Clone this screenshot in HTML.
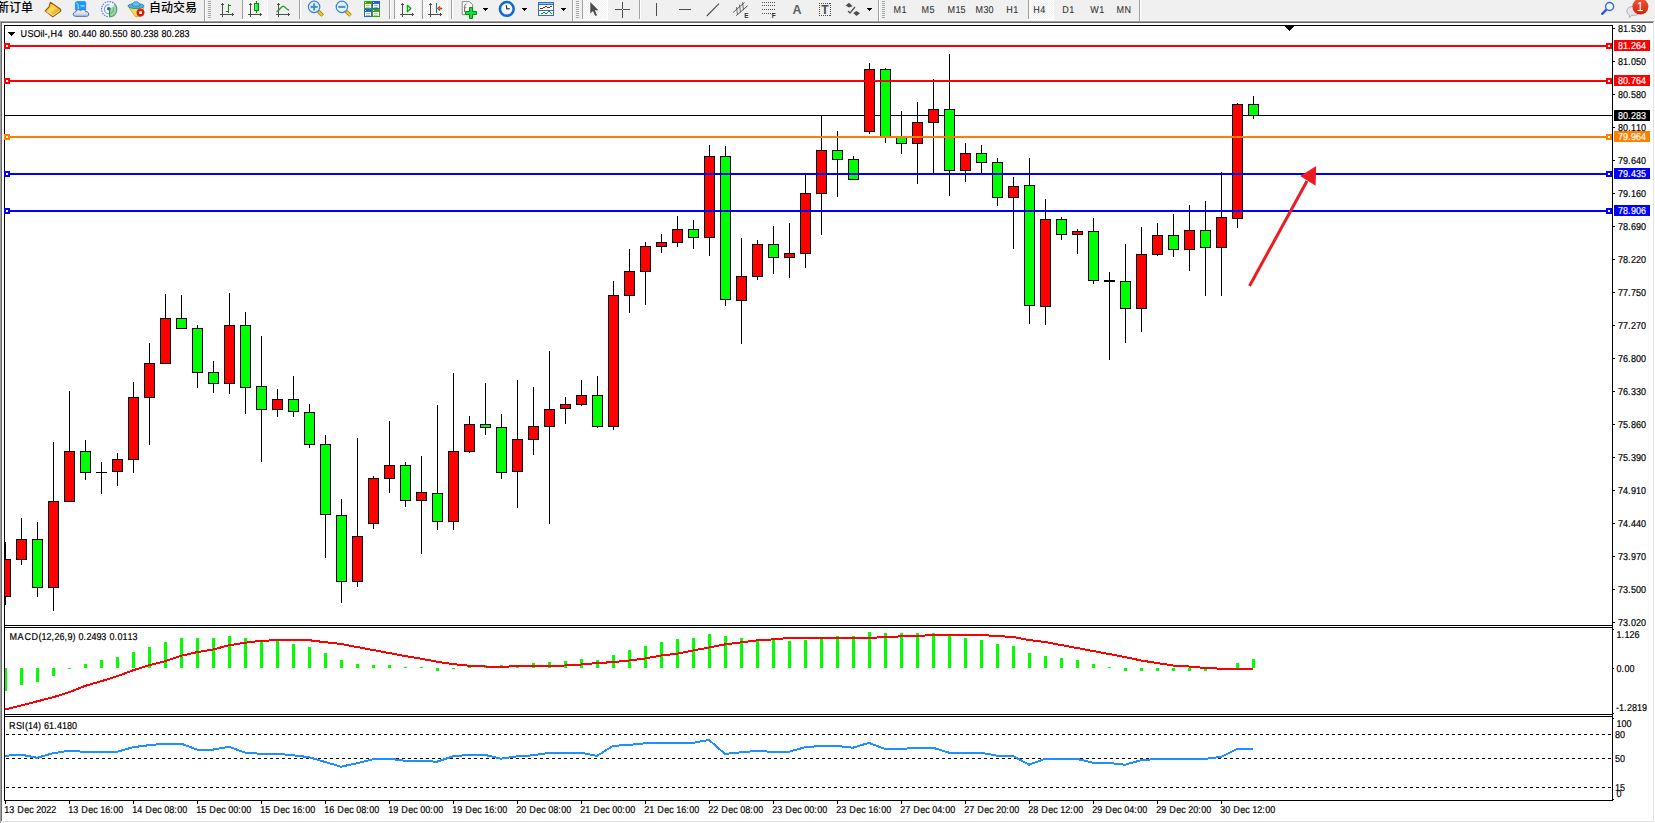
<!DOCTYPE html>
<html lang="zh"><head><meta charset="utf-8"><title>USOil-,H4</title>
<style>html,body{margin:0;padding:0;background:#fff}body{width:1655px;height:823px;overflow:hidden}svg{display:block;position:absolute;left:0;top:0}text{font-family:"Liberation Sans","Noto Sans CJK SC",sans-serif;white-space:pre}.cj{font-family:"Liberation Sans","Noto Sans CJK SC",sans-serif}.ce{shape-rendering:crispEdges}</style></head><body>
<svg width="1655" height="823" viewBox="0 0 1655 823">
<g class="ce">
<rect x="0" y="0" width="1655" height="823" fill="#ffffff"/>
<rect x="0" y="0" width="1655" height="21" fill="#f0f0f0"/>
<rect x="0" y="21" width="1654" height="1" fill="#a0a0a0"/>
<rect x="0" y="21" width="1" height="802" fill="#a0a0a0"/>
<rect x="1" y="22" width="1652" height="1" fill="#696969"/>
<rect x="1" y="22" width="1" height="800" fill="#696969"/>
<rect x="1653" y="22" width="1" height="800" fill="#e3e3e3"/>
<rect x="1" y="821" width="1653" height="1" fill="#e3e3e3"/>
</g>
<defs><linearGradient id="gGold" x1="0" y1="0" x2="1" y2="1"><stop offset="0" stop-color="#e0a510"/><stop offset="0.45" stop-color="#ffdf50"/><stop offset="1" stop-color="#b87408"/></linearGradient><linearGradient id="gCloud" x1="0" y1="0" x2="0" y2="1"><stop offset="0" stop-color="#ffffff"/><stop offset="1" stop-color="#b9c4de"/></linearGradient><linearGradient id="gRed" x1="0" y1="0" x2="0" y2="1"><stop offset="0" stop-color="#ea5a3c"/><stop offset="1" stop-color="#d81e05"/></linearGradient><linearGradient id="gGreen" x1="0" y1="0" x2="1" y2="0"><stop offset="0" stop-color="#7df58a"/><stop offset="1" stop-color="#17d92b"/></linearGradient><radialGradient id="gClock" cx="0.5" cy="0.4" r="0.6"><stop offset="0" stop-color="#ffffff"/><stop offset="1" stop-color="#e4ecf4"/></radialGradient><pattern id="chk" width="2" height="2" patternUnits="userSpaceOnUse"><rect width="2" height="2" fill="#ffffff"/><rect width="1" height="1" fill="#f0f0f0"/><rect x="1" y="1" width="1" height="1" fill="#f0f0f0"/></pattern></defs>
<g class="ce">
<rect x="0" y="20" width="1654" height="1" fill="#f8f8f8"/>
<rect x="204" y="0" width="1" height="21" fill="#a0a0a0"/>
<rect x="205" y="0" width="1" height="21" fill="#ffffff"/>
<rect x="572" y="0" width="1" height="21" fill="#a0a0a0"/>
<rect x="573" y="0" width="1" height="21" fill="#ffffff"/>
<rect x="878" y="0" width="1" height="21" fill="#a0a0a0"/>
<rect x="879" y="0" width="1" height="21" fill="#ffffff"/>
<rect x="1139" y="0" width="1" height="21" fill="#a0a0a0"/>
<rect x="1140" y="0" width="1" height="21" fill="#ffffff"/>
<rect x="208" y="1" width="3" height="1" fill="#a6a6a6"/>
<rect x="208" y="3" width="3" height="1" fill="#a6a6a6"/>
<rect x="208" y="5" width="3" height="1" fill="#a6a6a6"/>
<rect x="208" y="7" width="3" height="1" fill="#a6a6a6"/>
<rect x="208" y="9" width="3" height="1" fill="#a6a6a6"/>
<rect x="208" y="11" width="3" height="1" fill="#a6a6a6"/>
<rect x="208" y="13" width="3" height="1" fill="#a6a6a6"/>
<rect x="208" y="15" width="3" height="1" fill="#a6a6a6"/>
<rect x="208" y="17" width="3" height="1" fill="#a6a6a6"/>
<rect x="576" y="1" width="3" height="1" fill="#a6a6a6"/>
<rect x="576" y="3" width="3" height="1" fill="#a6a6a6"/>
<rect x="576" y="5" width="3" height="1" fill="#a6a6a6"/>
<rect x="576" y="7" width="3" height="1" fill="#a6a6a6"/>
<rect x="576" y="9" width="3" height="1" fill="#a6a6a6"/>
<rect x="576" y="11" width="3" height="1" fill="#a6a6a6"/>
<rect x="576" y="13" width="3" height="1" fill="#a6a6a6"/>
<rect x="576" y="15" width="3" height="1" fill="#a6a6a6"/>
<rect x="576" y="17" width="3" height="1" fill="#a6a6a6"/>
<rect x="882" y="1" width="3" height="1" fill="#a6a6a6"/>
<rect x="882" y="3" width="3" height="1" fill="#a6a6a6"/>
<rect x="882" y="5" width="3" height="1" fill="#a6a6a6"/>
<rect x="882" y="7" width="3" height="1" fill="#a6a6a6"/>
<rect x="882" y="9" width="3" height="1" fill="#a6a6a6"/>
<rect x="882" y="11" width="3" height="1" fill="#a6a6a6"/>
<rect x="882" y="13" width="3" height="1" fill="#a6a6a6"/>
<rect x="882" y="15" width="3" height="1" fill="#a6a6a6"/>
<rect x="882" y="17" width="3" height="1" fill="#a6a6a6"/>
<rect x="299" y="0" width="1" height="19" fill="#a0a0a0"/>
<rect x="300" y="0" width="1" height="19" fill="#ffffff"/>
<rect x="389" y="0" width="1" height="19" fill="#a0a0a0"/>
<rect x="390" y="0" width="1" height="19" fill="#ffffff"/>
<rect x="451" y="0" width="1" height="19" fill="#a0a0a0"/>
<rect x="452" y="0" width="1" height="19" fill="#ffffff"/>
<rect x="639" y="0" width="1" height="19" fill="#a0a0a0"/>
<rect x="640" y="0" width="1" height="19" fill="#ffffff"/>
<rect x="243" y="0" width="24" height="19" fill="url(#chk)"/>
<rect x="242" y="0" width="1" height="19" fill="#a0a0a0"/>
<rect x="267" y="0" width="1" height="20" fill="#ffffff"/>
<rect x="242" y="19" width="25" height="1" fill="#ffffff"/>
<rect x="395" y="0" width="24" height="19" fill="url(#chk)"/>
<rect x="394" y="0" width="1" height="19" fill="#a0a0a0"/>
<rect x="419" y="0" width="1" height="20" fill="#ffffff"/>
<rect x="394" y="19" width="25" height="1" fill="#ffffff"/>
<rect x="423" y="0" width="24" height="19" fill="url(#chk)"/>
<rect x="422" y="0" width="1" height="19" fill="#a0a0a0"/>
<rect x="447" y="0" width="1" height="20" fill="#ffffff"/>
<rect x="422" y="19" width="25" height="1" fill="#ffffff"/>
<rect x="583" y="0" width="24" height="19" fill="url(#chk)"/>
<rect x="582" y="0" width="1" height="19" fill="#a0a0a0"/>
<rect x="607" y="0" width="1" height="20" fill="#ffffff"/>
<rect x="582" y="19" width="25" height="1" fill="#ffffff"/>
<rect x="1029" y="0" width="24" height="19" fill="url(#chk)"/>
<rect x="1028" y="0" width="1" height="19" fill="#a0a0a0"/>
<rect x="1053" y="0" width="1" height="20" fill="#ffffff"/>
<rect x="1028" y="19" width="25" height="1" fill="#ffffff"/>
<rect x="222" y="3" width="1" height="14" fill="#4d4d4d"/>
<rect x="221" y="4" width="3" height="1" fill="#4d4d4d"/>
<rect x="220" y="14" width="14" height="1" fill="#4d4d4d"/>
<rect x="232" y="13" width="1" height="3" fill="#4d4d4d"/>
<rect x="250" y="3" width="1" height="14" fill="#4d4d4d"/>
<rect x="249" y="4" width="3" height="1" fill="#4d4d4d"/>
<rect x="248" y="14" width="14" height="1" fill="#4d4d4d"/>
<rect x="260" y="13" width="1" height="3" fill="#4d4d4d"/>
<rect x="278" y="3" width="1" height="14" fill="#4d4d4d"/>
<rect x="277" y="4" width="3" height="1" fill="#4d4d4d"/>
<rect x="276" y="14" width="14" height="1" fill="#4d4d4d"/>
<rect x="288" y="13" width="1" height="3" fill="#4d4d4d"/>
<rect x="402" y="3" width="1" height="14" fill="#4d4d4d"/>
<rect x="401" y="4" width="3" height="1" fill="#4d4d4d"/>
<rect x="400" y="14" width="14" height="1" fill="#4d4d4d"/>
<rect x="412" y="13" width="1" height="3" fill="#4d4d4d"/>
<rect x="430" y="3" width="1" height="14" fill="#4d4d4d"/>
<rect x="429" y="4" width="3" height="1" fill="#4d4d4d"/>
<rect x="428" y="14" width="14" height="1" fill="#4d4d4d"/>
<rect x="440" y="13" width="1" height="3" fill="#4d4d4d"/>
<rect x="228" y="4" width="1" height="9" fill="#0a8a0a"/>
<rect x="229" y="5" width="2" height="1" fill="#0a8a0a"/>
<rect x="226" y="11" width="2" height="1" fill="#0a8a0a"/>
<rect x="256" y="1" width="1" height="12" fill="#009a00"/>
<rect x="254" y="3" width="5" height="8" fill="#009a00"/>
<rect x="255" y="4" width="3" height="6" fill="url(#gGreen)"/>
<rect x="483" y="8" width="5" height="1" fill="#000"/>
<rect x="484" y="9" width="3" height="1" fill="#000"/>
<rect x="485" y="10" width="1" height="1" fill="#000"/>
<rect x="522" y="8" width="5" height="1" fill="#000"/>
<rect x="523" y="9" width="3" height="1" fill="#000"/>
<rect x="524" y="10" width="1" height="1" fill="#000"/>
<rect x="561" y="8" width="5" height="1" fill="#000"/>
<rect x="562" y="9" width="3" height="1" fill="#000"/>
<rect x="563" y="10" width="1" height="1" fill="#000"/>
<rect x="867" y="8" width="5" height="1" fill="#000"/>
<rect x="868" y="9" width="3" height="1" fill="#000"/>
<rect x="869" y="10" width="1" height="1" fill="#000"/>
<rect x="622" y="2" width="1" height="16" fill="#4d4d4d"/>
<rect x="615" y="9" width="15" height="1" fill="#4d4d4d"/>
<rect x="622" y="9" width="1" height="1" fill="#f0f0f0"/>
<rect x="656" y="3" width="1" height="13" fill="#4d4d4d"/>
<rect x="679" y="9" width="12" height="1" fill="#4d4d4d"/>
<rect x="762" y="2" width="1" height="1" fill="#4d4d4d"/>
<rect x="764" y="2" width="1" height="1" fill="#4d4d4d"/>
<rect x="766" y="2" width="1" height="1" fill="#4d4d4d"/>
<rect x="768" y="2" width="1" height="1" fill="#4d4d4d"/>
<rect x="770" y="2" width="1" height="1" fill="#4d4d4d"/>
<rect x="772" y="2" width="1" height="1" fill="#4d4d4d"/>
<rect x="774" y="2" width="1" height="1" fill="#4d4d4d"/>
<rect x="762" y="5" width="1" height="1" fill="#4d4d4d"/>
<rect x="764" y="5" width="1" height="1" fill="#4d4d4d"/>
<rect x="766" y="5" width="1" height="1" fill="#4d4d4d"/>
<rect x="768" y="5" width="1" height="1" fill="#4d4d4d"/>
<rect x="770" y="5" width="1" height="1" fill="#4d4d4d"/>
<rect x="772" y="5" width="1" height="1" fill="#4d4d4d"/>
<rect x="774" y="5" width="1" height="1" fill="#4d4d4d"/>
<rect x="762" y="9" width="1" height="1" fill="#4d4d4d"/>
<rect x="764" y="9" width="1" height="1" fill="#4d4d4d"/>
<rect x="766" y="9" width="1" height="1" fill="#4d4d4d"/>
<rect x="768" y="9" width="1" height="1" fill="#4d4d4d"/>
<rect x="770" y="9" width="1" height="1" fill="#4d4d4d"/>
<rect x="772" y="9" width="1" height="1" fill="#4d4d4d"/>
<rect x="774" y="9" width="1" height="1" fill="#4d4d4d"/>
<rect x="762" y="13" width="1" height="1" fill="#4d4d4d"/>
<rect x="764" y="13" width="1" height="1" fill="#4d4d4d"/>
<rect x="766" y="13" width="1" height="1" fill="#4d4d4d"/>
<rect x="768" y="13" width="1" height="1" fill="#4d4d4d"/>
<rect x="770" y="13" width="1" height="1" fill="#4d4d4d"/>
<rect x="772" y="13" width="1" height="1" fill="#4d4d4d"/>
<rect x="774" y="13" width="1" height="1" fill="#4d4d4d"/>
<rect x="819" y="3" width="1" height="1" fill="#4d4d4d"/>
<rect x="819" y="15" width="1" height="1" fill="#4d4d4d"/>
<rect x="821" y="3" width="1" height="1" fill="#4d4d4d"/>
<rect x="821" y="15" width="1" height="1" fill="#4d4d4d"/>
<rect x="823" y="3" width="1" height="1" fill="#4d4d4d"/>
<rect x="823" y="15" width="1" height="1" fill="#4d4d4d"/>
<rect x="825" y="3" width="1" height="1" fill="#4d4d4d"/>
<rect x="825" y="15" width="1" height="1" fill="#4d4d4d"/>
<rect x="827" y="3" width="1" height="1" fill="#4d4d4d"/>
<rect x="827" y="15" width="1" height="1" fill="#4d4d4d"/>
<rect x="829" y="3" width="1" height="1" fill="#4d4d4d"/>
<rect x="829" y="15" width="1" height="1" fill="#4d4d4d"/>
<rect x="819" y="3" width="1" height="1" fill="#4d4d4d"/>
<rect x="830" y="3" width="1" height="1" fill="#4d4d4d"/>
<rect x="819" y="5" width="1" height="1" fill="#4d4d4d"/>
<rect x="830" y="5" width="1" height="1" fill="#4d4d4d"/>
<rect x="819" y="7" width="1" height="1" fill="#4d4d4d"/>
<rect x="830" y="7" width="1" height="1" fill="#4d4d4d"/>
<rect x="819" y="9" width="1" height="1" fill="#4d4d4d"/>
<rect x="830" y="9" width="1" height="1" fill="#4d4d4d"/>
<rect x="819" y="11" width="1" height="1" fill="#4d4d4d"/>
<rect x="830" y="11" width="1" height="1" fill="#4d4d4d"/>
<rect x="819" y="13" width="1" height="1" fill="#4d4d4d"/>
<rect x="830" y="13" width="1" height="1" fill="#4d4d4d"/>
<rect x="819" y="15" width="1" height="1" fill="#4d4d4d"/>
<rect x="830" y="15" width="1" height="1" fill="#4d4d4d"/>
<rect x="364" y="1" width="8" height="8" fill="#3ba312"/>
<rect x="365" y="4" width="6" height="4" fill="#fff"/>
<rect x="366" y="5" width="4" height="1" fill="#9fd77f"/>
<rect x="366" y="7" width="4" height="1" fill="#9fd77f"/>
<rect x="365" y="2" width="1" height="1" fill="#e8f0ff"/>
<rect x="372" y="1" width="8" height="8" fill="#2762d9"/>
<rect x="373" y="4" width="6" height="4" fill="#fff"/>
<rect x="374" y="5" width="4" height="1" fill="#8fb0f0"/>
<rect x="374" y="7" width="4" height="1" fill="#8fb0f0"/>
<rect x="373" y="2" width="1" height="1" fill="#e8f0ff"/>
<rect x="364" y="9" width="8" height="8" fill="#2762d9"/>
<rect x="365" y="12" width="6" height="4" fill="#fff"/>
<rect x="366" y="13" width="4" height="1" fill="#8fb0f0"/>
<rect x="366" y="15" width="4" height="1" fill="#8fb0f0"/>
<rect x="365" y="10" width="1" height="1" fill="#e8f0ff"/>
<rect x="372" y="9" width="8" height="8" fill="#3ba312"/>
<rect x="373" y="12" width="6" height="4" fill="#fff"/>
<rect x="374" y="13" width="4" height="1" fill="#9fd77f"/>
<rect x="374" y="15" width="4" height="1" fill="#9fd77f"/>
<rect x="373" y="10" width="1" height="1" fill="#e8f0ff"/>
<rect x="538" y="2" width="16" height="14" fill="#2a72c0"/>
<rect x="539" y="3" width="14" height="1" fill="#8fc0f0"/>
<rect x="539" y="5" width="14" height="5" fill="#fff"/>
<rect x="539" y="11" width="14" height="4" fill="#fff"/>
<rect x="540" y="8" width="3" height="1" fill="#a01808"/>
<rect x="543" y="7" width="2" height="1" fill="#a01808"/>
<rect x="545" y="6" width="2" height="1" fill="#a01808"/>
<rect x="547" y="7" width="3" height="1" fill="#a01808"/>
<rect x="550" y="6" width="2" height="1" fill="#a01808"/>
<rect x="541" y="13" width="2" height="1" fill="#10901a"/>
<rect x="543" y="12" width="2" height="1" fill="#10901a"/>
<rect x="545" y="13" width="2" height="1" fill="#10901a"/>
<rect x="547" y="12" width="1" height="1" fill="#10901a"/>
<rect x="548" y="11" width="2" height="1" fill="#10901a"/>
<rect x="550" y="12" width="1" height="1" fill="#10901a"/>
<rect x="551" y="13" width="1" height="1" fill="#10901a"/>
</g>
<g>
<polygon points="50.3,2.3 60.6,9.2 60.8,11 52.8,16.8 45.2,10.8 49,7" fill="url(#gGold)" stroke="#9a5a06" stroke-width="1.1" stroke-linejoin="round"/>
<path d="M46.5,11.5 L53,15.5 L59.8,10.6" fill="none" stroke="#f8e9a8" stroke-width="1"/>
<path d="M75.3,2.5 L77,1.5 H85 L85.8,2.5 V10 H75.3 Z" fill="#189bff" stroke="#0a84e8" stroke-width="0.6"/>
<path d="M76.2,2.8 L78.2,4.5 V10" fill="none" stroke="#e8f6ff" stroke-width="0.8"/>
<rect x="80.5" y="5.4" width="4" height="1" fill="#e8f6ff"/>
<path d="M75.5,16.3 C72.5,16.3 72.5,12 75.7,12 C76,9.6 79.5,9.2 80.7,10.8 C82.5,8.7 85.6,9.7 85.4,11.6 C89,11 90.2,16.3 86.5,16.3 Z" fill="url(#gCloud)" stroke="#4a66a8" stroke-width="1"/>
<circle cx="109" cy="9.2" r="7.6" fill="#f4f6fb"/>
<path d="M109.6,9.2 L109.6,16.8 A7.6,7.6 0 0 0 115.2,4.6 Z" fill="#9fd79f"/>
<path d="M109.6,16.8 A7.6,7.6 0 0 0 115.2,4.6" fill="none" stroke="#4f9a86" stroke-width="1.2"/>
<path d="M115.2,4.6 A7.6,7.6 0 1 0 108.5,16.8" fill="none" stroke="#5b7fe0" stroke-width="1.2" stroke-dasharray="1.6 0.9"/>
<circle cx="109" cy="9.2" r="4.6" fill="none" stroke="#6f8fe4" stroke-width="1.1" stroke-dasharray="14.5 14.4" stroke-dashoffset="-7" opacity="0.9"/>
<path d="M110.5,13.4 A4.6,4.6 0 0 0 113.3,7.5" fill="none" stroke="#6fae8f" stroke-width="1.1"/>
<circle cx="108.8" cy="8.7" r="1.8" fill="#2a55d0"/>
<rect x="109" y="9" width="1.2" height="7.8" fill="#16a516"/>
<path d="M129,7.6 L143.8,7.6 L140,16.6 L135.5,16.6 Z" fill="#f8dc50" stroke="#c89a10" stroke-width="0.8"/>
<ellipse cx="136" cy="6" rx="8" ry="2.5" fill="#58b0e8" stroke="#1c84b0" stroke-width="0.9"/>
<path d="M132.2,5.6 C132,0.4 139.8,0.4 140,5.6 C138,6.6 134,6.6 132.2,5.6 Z" fill="#6cbcf0" stroke="#1c84b0" stroke-width="0.8"/>
<circle cx="140.5" cy="12.6" r="3.7" fill="#e01e08" stroke="#b81400" stroke-width="0.6"/>
<rect x="139.2" y="11.3" width="2.7" height="2.7" fill="#fff"/>
<path d="M277,11.6 C279.5,10.5 281,6.2 283.2,6.2 C285.2,6.2 286,9.3 288.6,10" fill="none" stroke="#2e9e2e" stroke-width="1.4" stroke-linecap="round"/>
<line x1="318.3" y1="11.2" x2="322.70000000000005" y2="15.6" stroke="#b07800" stroke-width="3.6"/>
<line x1="318.70000000000005" y1="11.6" x2="322.3" y2="15.2" stroke="#f2d030" stroke-width="2"/>
<circle cx="314.1" cy="6.9" r="5.7" fill="#dff3ff" stroke="#3b80d2" stroke-width="1.2"/>
<rect x="310.6" y="5.9" width="7" height="2" fill="#4a8fb8"/>
<rect x="313.1" y="3.4" width="2" height="7" fill="#4a8fb8"/>
<line x1="346.09999999999997" y1="11.2" x2="350.5" y2="15.6" stroke="#b07800" stroke-width="3.6"/>
<line x1="346.5" y1="11.6" x2="350.09999999999997" y2="15.2" stroke="#f2d030" stroke-width="2"/>
<circle cx="341.9" cy="6.9" r="5.7" fill="#dff3ff" stroke="#3b80d2" stroke-width="1.2"/>
<rect x="338.4" y="5.9" width="7" height="2" fill="#4a8fb8"/>
<polygon points="407.3,5.2 411,8.5 407.3,11.8" fill="#7dff8e" stroke="#08a008" stroke-width="1.1" stroke-linejoin="round"/>
<rect x="436" y="3" width="1" height="10" fill="#1270a2"/>
<path d="M437.2,8.5 L439.6,6.4 L439.6,8 L441.8,8 L441.8,9 L439.6,9 L439.6,10.6 Z" fill="#ff7a10" stroke="#9a2000" stroke-width="0.7"/>
<path d="M462.2,1.7 H469.5 L472.6,4.6 V14.6 H462.2 Z" fill="#fff" stroke="#8a8a8a" stroke-width="1" stroke-linejoin="round"/>
<path d="M466.5,4 C464.5,4 464.8,6 464.6,8 V12" fill="none" stroke="#5a4a30" stroke-width="0.9"/>
<path d="M463.6,7.6 H466.6" fill="none" stroke="#8a7a60" stroke-width="0.7"/>
<path d="M469.5,7.5 H472.5 V11.5 H476.5 V14.5 H472.5 V18.5 H469.5 V14.5 H465.5 V11.5 H469.5 Z" fill="#14e03a" stroke="#0a8a14" stroke-width="1"/>
<circle cx="506.8" cy="8.9" r="6.9" fill="url(#gClock)" stroke="#0e6ad0" stroke-width="2.5"/>
<path d="M506.3,5.2 L506.8,9 L509.6,8.6" fill="none" stroke="#222" stroke-width="1.1"/>
<path d="M590.3,2 L590.3,13.4 L593,10.9 L595.2,16 L597,15.2 L594.8,10.2 L598.4,10.2 Z" fill="#4d4d4d"/>
<line x1="706.8" y1="16" x2="719" y2="3.6" stroke="#4d4d4d" stroke-width="1.1"/>
<line x1="733" y1="12.5" x2="744.5" y2="2.5" stroke="#4d4d4d" stroke-width="0.9"/>
<line x1="736.2" y1="15.7" x2="747.7" y2="5.7" stroke="#4d4d4d" stroke-width="0.9"/>
<line x1="736.5" y1="7.0" x2="737.5" y2="15.0" stroke="#4d4d4d" stroke-width="0.8"/>
<line x1="739.5" y1="4.6" x2="740.5" y2="12.6" stroke="#4d4d4d" stroke-width="0.8"/>
<line x1="742.5" y1="2.1999999999999993" x2="743.5" y2="10.2" stroke="#4d4d4d" stroke-width="0.8"/>
<polygon points="849,2.8 852.6,6.2 849,7.6 845.6,5.6" fill="#4d4d4d"/>
<polygon points="856.5,11 860,13.2 856.5,16 853.2,13" fill="#4d4d4d"/>
<path d="M848,11 L850,13 L855,7" fill="none" stroke="#4d4d4d" stroke-width="1.2"/>
<line x1="1602.2" y1="13.8" x2="1606.4" y2="9.6" stroke="#2a5fd0" stroke-width="2.4" stroke-linecap="round"/>
<circle cx="1609.6" cy="6.5" r="4" fill="#f4f7ff" stroke="#2f68dc" stroke-width="1.4"/>
<path d="M1627,12 C1626,8 1630,6.3 1634,6.5 C1639,6.8 1641,10 1639.5,13 C1638.5,15 1635,15.6 1631.8,15.3 L1629.4,17.6 L1629.4,14.9 C1628,14.3 1627.3,13.3 1627,12 Z" fill="#e4e4ec" stroke="#b0b0b0" stroke-width="1"/>
<circle cx="1640.4" cy="6.6" r="8" fill="url(#gRed)"/>
</g>
<g>
<text class="cj" x="-3" y="12" font-size="12" font-weight="500" fill="#000">新订单</text>
<text class="cj" x="149" y="12" font-size="12" font-weight="500" fill="#000">自动交易</text>
<text x="792.6" y="14" font-size="12.5" font-weight="bold" fill="#606060">A</text>
<text x="821.3" y="14" font-size="12" font-weight="bold" fill="#4d4d4d">T</text>
<text x="744.3" y="18" font-size="6.5" font-weight="bold" fill="#333">E</text>
<text x="771.8" y="18" font-size="6.5" font-weight="bold" fill="#333">F</text>
<text x="1636.8" y="11" font-size="12" fill="#fff">1</text>
</g>
<g class="ce">
<rect x="4" y="25" width="1609" height="1" fill="#000"/>
<rect x="4" y="625" width="1609" height="1" fill="#000"/>
<rect x="4" y="25" width="1" height="601" fill="#000"/>
<rect x="1612" y="25" width="1" height="601" fill="#000"/>
<rect x="4" y="627" width="1609" height="1" fill="#000"/>
<rect x="4" y="714" width="1609" height="1" fill="#000"/>
<rect x="4" y="627" width="1" height="88" fill="#000"/>
<rect x="1612" y="627" width="1" height="88" fill="#000"/>
<rect x="4" y="716" width="1609" height="1" fill="#000"/>
<rect x="4" y="800" width="1609" height="1" fill="#000"/>
<rect x="4" y="716" width="1" height="85" fill="#000"/>
<rect x="1612" y="716" width="1" height="85" fill="#000"/>
<rect x="1612" y="625" width="1" height="3" fill="#000"/>
<rect x="1612" y="714" width="1" height="3" fill="#000"/>
<rect x="4" y="625" width="1" height="3" fill="#000"/>
<rect x="4" y="714" width="1" height="3" fill="#000"/>
<rect x="5" y="115" width="1607" height="1" fill="#000"/>
<rect x="5" y="542" width="1" height="63" fill="#000"/>
<rect x="5" y="559" width="6" height="38" fill="#000"/>
<rect x="5" y="560" width="5" height="36" fill="#ff0000"/>
<rect x="21" y="518" width="1" height="47" fill="#000"/>
<rect x="16" y="539" width="11" height="21" fill="#000"/>
<rect x="17" y="540" width="9" height="19" fill="#ff0000"/>
<rect x="37" y="522" width="1" height="75" fill="#000"/>
<rect x="32" y="539" width="11" height="49" fill="#000"/>
<rect x="33" y="540" width="9" height="47" fill="#00ff00"/>
<rect x="53" y="442" width="1" height="169" fill="#000"/>
<rect x="48" y="501" width="11" height="87" fill="#000"/>
<rect x="49" y="502" width="9" height="85" fill="#ff0000"/>
<rect x="69" y="391" width="1" height="111" fill="#000"/>
<rect x="64" y="451" width="11" height="51" fill="#000"/>
<rect x="65" y="452" width="9" height="49" fill="#ff0000"/>
<rect x="85" y="440" width="1" height="40" fill="#000"/>
<rect x="80" y="451" width="11" height="22" fill="#000"/>
<rect x="81" y="452" width="9" height="20" fill="#00ff00"/>
<rect x="101" y="462" width="1" height="32" fill="#000"/>
<rect x="96" y="472" width="11" height="1" fill="#000"/>
<rect x="117" y="453" width="1" height="33" fill="#000"/>
<rect x="112" y="459" width="11" height="13" fill="#000"/>
<rect x="113" y="460" width="9" height="11" fill="#ff0000"/>
<rect x="133" y="382" width="1" height="91" fill="#000"/>
<rect x="128" y="397" width="11" height="63" fill="#000"/>
<rect x="129" y="398" width="9" height="61" fill="#ff0000"/>
<rect x="149" y="343" width="1" height="102" fill="#000"/>
<rect x="144" y="363" width="11" height="35" fill="#000"/>
<rect x="145" y="364" width="9" height="33" fill="#ff0000"/>
<rect x="165" y="294" width="1" height="70" fill="#000"/>
<rect x="160" y="318" width="11" height="46" fill="#000"/>
<rect x="161" y="319" width="9" height="44" fill="#ff0000"/>
<rect x="181" y="295" width="1" height="34" fill="#000"/>
<rect x="176" y="318" width="11" height="11" fill="#000"/>
<rect x="177" y="319" width="9" height="9" fill="#00ff00"/>
<rect x="197" y="325" width="1" height="63" fill="#000"/>
<rect x="192" y="328" width="11" height="45" fill="#000"/>
<rect x="193" y="329" width="9" height="43" fill="#00ff00"/>
<rect x="213" y="361" width="1" height="32" fill="#000"/>
<rect x="208" y="372" width="11" height="12" fill="#000"/>
<rect x="209" y="373" width="9" height="10" fill="#00ff00"/>
<rect x="229" y="293" width="1" height="101" fill="#000"/>
<rect x="224" y="325" width="11" height="59" fill="#000"/>
<rect x="225" y="326" width="9" height="57" fill="#ff0000"/>
<rect x="245" y="312" width="1" height="102" fill="#000"/>
<rect x="240" y="325" width="11" height="63" fill="#000"/>
<rect x="241" y="326" width="9" height="61" fill="#00ff00"/>
<rect x="261" y="336" width="1" height="126" fill="#000"/>
<rect x="256" y="386" width="11" height="24" fill="#000"/>
<rect x="257" y="387" width="9" height="22" fill="#00ff00"/>
<rect x="277" y="389" width="1" height="28" fill="#000"/>
<rect x="272" y="399" width="11" height="11" fill="#000"/>
<rect x="273" y="400" width="9" height="9" fill="#ff0000"/>
<rect x="293" y="376" width="1" height="41" fill="#000"/>
<rect x="288" y="399" width="11" height="13" fill="#000"/>
<rect x="289" y="400" width="9" height="11" fill="#00ff00"/>
<rect x="309" y="404" width="1" height="44" fill="#000"/>
<rect x="304" y="412" width="11" height="33" fill="#000"/>
<rect x="305" y="413" width="9" height="31" fill="#00ff00"/>
<rect x="325" y="435" width="1" height="123" fill="#000"/>
<rect x="320" y="444" width="11" height="71" fill="#000"/>
<rect x="321" y="445" width="9" height="69" fill="#00ff00"/>
<rect x="341" y="499" width="1" height="104" fill="#000"/>
<rect x="336" y="515" width="11" height="67" fill="#000"/>
<rect x="337" y="516" width="9" height="65" fill="#00ff00"/>
<rect x="357" y="438" width="1" height="149" fill="#000"/>
<rect x="352" y="536" width="11" height="46" fill="#000"/>
<rect x="353" y="537" width="9" height="44" fill="#ff0000"/>
<rect x="373" y="476" width="1" height="53" fill="#000"/>
<rect x="368" y="478" width="11" height="46" fill="#000"/>
<rect x="369" y="479" width="9" height="44" fill="#ff0000"/>
<rect x="389" y="421" width="1" height="72" fill="#000"/>
<rect x="384" y="465" width="11" height="14" fill="#000"/>
<rect x="385" y="466" width="9" height="12" fill="#ff0000"/>
<rect x="405" y="462" width="1" height="45" fill="#000"/>
<rect x="400" y="465" width="11" height="36" fill="#000"/>
<rect x="401" y="466" width="9" height="34" fill="#00ff00"/>
<rect x="421" y="456" width="1" height="98" fill="#000"/>
<rect x="416" y="492" width="11" height="9" fill="#000"/>
<rect x="417" y="493" width="9" height="7" fill="#ff0000"/>
<rect x="437" y="405" width="1" height="125" fill="#000"/>
<rect x="432" y="493" width="11" height="29" fill="#000"/>
<rect x="433" y="494" width="9" height="27" fill="#00ff00"/>
<rect x="453" y="373" width="1" height="157" fill="#000"/>
<rect x="448" y="451" width="11" height="71" fill="#000"/>
<rect x="449" y="452" width="9" height="69" fill="#ff0000"/>
<rect x="469" y="416" width="1" height="37" fill="#000"/>
<rect x="464" y="424" width="11" height="28" fill="#000"/>
<rect x="465" y="425" width="9" height="26" fill="#ff0000"/>
<rect x="485" y="383" width="1" height="52" fill="#000"/>
<rect x="480" y="424" width="11" height="4" fill="#000"/>
<rect x="481" y="425" width="9" height="2" fill="#00ff00"/>
<rect x="501" y="414" width="1" height="65" fill="#000"/>
<rect x="496" y="427" width="11" height="46" fill="#000"/>
<rect x="497" y="428" width="9" height="44" fill="#00ff00"/>
<rect x="517" y="380" width="1" height="128" fill="#000"/>
<rect x="512" y="439" width="11" height="33" fill="#000"/>
<rect x="513" y="440" width="9" height="31" fill="#ff0000"/>
<rect x="533" y="387" width="1" height="68" fill="#000"/>
<rect x="528" y="426" width="11" height="14" fill="#000"/>
<rect x="529" y="427" width="9" height="12" fill="#ff0000"/>
<rect x="549" y="351" width="1" height="173" fill="#000"/>
<rect x="544" y="409" width="11" height="18" fill="#000"/>
<rect x="545" y="410" width="9" height="16" fill="#ff0000"/>
<rect x="565" y="397" width="1" height="27" fill="#000"/>
<rect x="560" y="404" width="11" height="5" fill="#000"/>
<rect x="561" y="405" width="9" height="3" fill="#ff0000"/>
<rect x="581" y="380" width="1" height="26" fill="#000"/>
<rect x="576" y="395" width="11" height="10" fill="#000"/>
<rect x="577" y="396" width="9" height="8" fill="#ff0000"/>
<rect x="597" y="376" width="1" height="52" fill="#000"/>
<rect x="592" y="395" width="11" height="32" fill="#000"/>
<rect x="593" y="396" width="9" height="30" fill="#00ff00"/>
<rect x="613" y="281" width="1" height="149" fill="#000"/>
<rect x="608" y="295" width="11" height="132" fill="#000"/>
<rect x="609" y="296" width="9" height="130" fill="#ff0000"/>
<rect x="629" y="249" width="1" height="64" fill="#000"/>
<rect x="624" y="271" width="11" height="25" fill="#000"/>
<rect x="625" y="272" width="9" height="23" fill="#ff0000"/>
<rect x="645" y="242" width="1" height="63" fill="#000"/>
<rect x="640" y="246" width="11" height="26" fill="#000"/>
<rect x="641" y="247" width="9" height="24" fill="#ff0000"/>
<rect x="661" y="234" width="1" height="19" fill="#000"/>
<rect x="656" y="242" width="11" height="5" fill="#000"/>
<rect x="657" y="243" width="9" height="3" fill="#ff0000"/>
<rect x="677" y="216" width="1" height="31" fill="#000"/>
<rect x="672" y="229" width="11" height="14" fill="#000"/>
<rect x="673" y="230" width="9" height="12" fill="#ff0000"/>
<rect x="693" y="220" width="1" height="29" fill="#000"/>
<rect x="688" y="229" width="11" height="9" fill="#000"/>
<rect x="689" y="230" width="9" height="7" fill="#00ff00"/>
<rect x="709" y="145" width="1" height="111" fill="#000"/>
<rect x="704" y="156" width="11" height="82" fill="#000"/>
<rect x="705" y="157" width="9" height="80" fill="#ff0000"/>
<rect x="725" y="146" width="1" height="160" fill="#000"/>
<rect x="720" y="156" width="11" height="144" fill="#000"/>
<rect x="721" y="157" width="9" height="142" fill="#00ff00"/>
<rect x="741" y="238" width="1" height="106" fill="#000"/>
<rect x="736" y="276" width="11" height="25" fill="#000"/>
<rect x="737" y="277" width="9" height="23" fill="#ff0000"/>
<rect x="757" y="240" width="1" height="40" fill="#000"/>
<rect x="752" y="244" width="11" height="33" fill="#000"/>
<rect x="753" y="245" width="9" height="31" fill="#ff0000"/>
<rect x="773" y="226" width="1" height="48" fill="#000"/>
<rect x="768" y="244" width="11" height="14" fill="#000"/>
<rect x="769" y="245" width="9" height="12" fill="#00ff00"/>
<rect x="789" y="223" width="1" height="55" fill="#000"/>
<rect x="784" y="253" width="11" height="5" fill="#000"/>
<rect x="785" y="254" width="9" height="3" fill="#ff0000"/>
<rect x="805" y="175" width="1" height="93" fill="#000"/>
<rect x="800" y="193" width="11" height="61" fill="#000"/>
<rect x="801" y="194" width="9" height="59" fill="#ff0000"/>
<rect x="821" y="116" width="1" height="119" fill="#000"/>
<rect x="816" y="150" width="11" height="44" fill="#000"/>
<rect x="817" y="151" width="9" height="42" fill="#ff0000"/>
<rect x="837" y="131" width="1" height="66" fill="#000"/>
<rect x="832" y="150" width="11" height="10" fill="#000"/>
<rect x="833" y="151" width="9" height="8" fill="#00ff00"/>
<rect x="853" y="156" width="1" height="24" fill="#000"/>
<rect x="848" y="159" width="11" height="21" fill="#000"/>
<rect x="849" y="160" width="9" height="19" fill="#00ff00"/>
<rect x="869" y="63" width="1" height="71" fill="#000"/>
<rect x="864" y="69" width="11" height="63" fill="#000"/>
<rect x="865" y="70" width="9" height="61" fill="#ff0000"/>
<rect x="885" y="68" width="1" height="75" fill="#000"/>
<rect x="880" y="69" width="11" height="69" fill="#000"/>
<rect x="881" y="70" width="9" height="67" fill="#00ff00"/>
<rect x="901" y="111" width="1" height="43" fill="#000"/>
<rect x="896" y="137" width="11" height="7" fill="#000"/>
<rect x="897" y="138" width="9" height="5" fill="#00ff00"/>
<rect x="917" y="102" width="1" height="82" fill="#000"/>
<rect x="912" y="122" width="11" height="22" fill="#000"/>
<rect x="913" y="123" width="9" height="20" fill="#ff0000"/>
<rect x="933" y="79" width="1" height="95" fill="#000"/>
<rect x="928" y="109" width="11" height="14" fill="#000"/>
<rect x="929" y="110" width="9" height="12" fill="#ff0000"/>
<rect x="949" y="54" width="1" height="142" fill="#000"/>
<rect x="944" y="109" width="11" height="62" fill="#000"/>
<rect x="945" y="110" width="9" height="60" fill="#00ff00"/>
<rect x="965" y="143" width="1" height="39" fill="#000"/>
<rect x="960" y="153" width="11" height="18" fill="#000"/>
<rect x="961" y="154" width="9" height="16" fill="#ff0000"/>
<rect x="981" y="145" width="1" height="28" fill="#000"/>
<rect x="976" y="153" width="11" height="10" fill="#000"/>
<rect x="977" y="154" width="9" height="8" fill="#00ff00"/>
<rect x="997" y="158" width="1" height="48" fill="#000"/>
<rect x="992" y="162" width="11" height="36" fill="#000"/>
<rect x="993" y="163" width="9" height="34" fill="#00ff00"/>
<rect x="1013" y="177" width="1" height="72" fill="#000"/>
<rect x="1008" y="186" width="11" height="12" fill="#000"/>
<rect x="1009" y="187" width="9" height="10" fill="#ff0000"/>
<rect x="1029" y="158" width="1" height="166" fill="#000"/>
<rect x="1024" y="185" width="11" height="121" fill="#000"/>
<rect x="1025" y="186" width="9" height="119" fill="#00ff00"/>
<rect x="1045" y="199" width="1" height="126" fill="#000"/>
<rect x="1040" y="219" width="11" height="88" fill="#000"/>
<rect x="1041" y="220" width="9" height="86" fill="#ff0000"/>
<rect x="1061" y="217" width="1" height="23" fill="#000"/>
<rect x="1056" y="219" width="11" height="16" fill="#000"/>
<rect x="1057" y="220" width="9" height="14" fill="#00ff00"/>
<rect x="1077" y="229" width="1" height="25" fill="#000"/>
<rect x="1072" y="231" width="11" height="4" fill="#000"/>
<rect x="1073" y="232" width="9" height="2" fill="#ff0000"/>
<rect x="1093" y="218" width="1" height="66" fill="#000"/>
<rect x="1088" y="231" width="11" height="50" fill="#000"/>
<rect x="1089" y="232" width="9" height="48" fill="#00ff00"/>
<rect x="1109" y="272" width="1" height="88" fill="#000"/>
<rect x="1104" y="280" width="11" height="2" fill="#000"/>
<rect x="1125" y="244" width="1" height="99" fill="#000"/>
<rect x="1120" y="281" width="11" height="28" fill="#000"/>
<rect x="1121" y="282" width="9" height="26" fill="#00ff00"/>
<rect x="1141" y="227" width="1" height="105" fill="#000"/>
<rect x="1136" y="254" width="11" height="55" fill="#000"/>
<rect x="1137" y="255" width="9" height="53" fill="#ff0000"/>
<rect x="1157" y="223" width="1" height="33" fill="#000"/>
<rect x="1152" y="235" width="11" height="20" fill="#000"/>
<rect x="1153" y="236" width="9" height="18" fill="#ff0000"/>
<rect x="1173" y="214" width="1" height="43" fill="#000"/>
<rect x="1168" y="235" width="11" height="15" fill="#000"/>
<rect x="1169" y="236" width="9" height="13" fill="#00ff00"/>
<rect x="1189" y="205" width="1" height="66" fill="#000"/>
<rect x="1184" y="230" width="11" height="20" fill="#000"/>
<rect x="1185" y="231" width="9" height="18" fill="#ff0000"/>
<rect x="1205" y="201" width="1" height="95" fill="#000"/>
<rect x="1200" y="230" width="11" height="18" fill="#000"/>
<rect x="1201" y="231" width="9" height="16" fill="#00ff00"/>
<rect x="1221" y="172" width="1" height="124" fill="#000"/>
<rect x="1216" y="217" width="11" height="31" fill="#000"/>
<rect x="1217" y="218" width="9" height="29" fill="#ff0000"/>
<rect x="1237" y="103" width="1" height="125" fill="#000"/>
<rect x="1232" y="104" width="11" height="115" fill="#000"/>
<rect x="1233" y="105" width="9" height="113" fill="#ff0000"/>
<rect x="1253" y="96" width="1" height="23" fill="#000"/>
<rect x="1248" y="104" width="11" height="12" fill="#000"/>
<rect x="1249" y="105" width="9" height="10" fill="#00ff00"/>
<rect x="5" y="45" width="1607" height="2" fill="#ff0000"/>
<rect x="4" y="43" width="6" height="6" fill="#ff0000"/>
<rect x="6" y="45" width="2" height="2" fill="#fff"/>
<rect x="1606" y="43" width="6" height="6" fill="#ff0000"/>
<rect x="1608" y="45" width="2" height="2" fill="#fff"/>
<rect x="5" y="80" width="1607" height="2" fill="#ff0000"/>
<rect x="4" y="78" width="6" height="6" fill="#ff0000"/>
<rect x="6" y="80" width="2" height="2" fill="#fff"/>
<rect x="1606" y="78" width="6" height="6" fill="#ff0000"/>
<rect x="1608" y="80" width="2" height="2" fill="#fff"/>
<rect x="5" y="136" width="1607" height="2" fill="#ff8000"/>
<rect x="4" y="134" width="6" height="6" fill="#ff8000"/>
<rect x="6" y="136" width="2" height="2" fill="#fff"/>
<rect x="1606" y="134" width="6" height="6" fill="#ff8000"/>
<rect x="1608" y="136" width="2" height="2" fill="#fff"/>
<rect x="5" y="173" width="1607" height="2" fill="#0000ff"/>
<rect x="4" y="171" width="6" height="6" fill="#0000ff"/>
<rect x="6" y="173" width="2" height="2" fill="#fff"/>
<rect x="1606" y="171" width="6" height="6" fill="#0000ff"/>
<rect x="1608" y="173" width="2" height="2" fill="#fff"/>
<rect x="5" y="210" width="1607" height="2" fill="#0000ff"/>
<rect x="4" y="208" width="6" height="6" fill="#0000ff"/>
<rect x="6" y="210" width="2" height="2" fill="#fff"/>
<rect x="1606" y="208" width="6" height="6" fill="#0000ff"/>
<rect x="1608" y="210" width="2" height="2" fill="#fff"/>
<rect x="1613" y="28" width="2" height="1" fill="#000"/>
<rect x="1613" y="61" width="2" height="1" fill="#000"/>
<rect x="1613" y="94" width="2" height="1" fill="#000"/>
<rect x="1613" y="127" width="2" height="1" fill="#000"/>
<rect x="1613" y="160" width="2" height="1" fill="#000"/>
<rect x="1613" y="193" width="2" height="1" fill="#000"/>
<rect x="1613" y="226" width="2" height="1" fill="#000"/>
<rect x="1613" y="259" width="2" height="1" fill="#000"/>
<rect x="1613" y="292" width="2" height="1" fill="#000"/>
<rect x="1613" y="325" width="2" height="1" fill="#000"/>
<rect x="1613" y="358" width="2" height="1" fill="#000"/>
<rect x="1613" y="391" width="2" height="1" fill="#000"/>
<rect x="1613" y="424" width="2" height="1" fill="#000"/>
<rect x="1613" y="457" width="2" height="1" fill="#000"/>
<rect x="1613" y="490" width="2" height="1" fill="#000"/>
<rect x="1613" y="523" width="2" height="1" fill="#000"/>
<rect x="1613" y="556" width="2" height="1" fill="#000"/>
<rect x="1613" y="589" width="2" height="1" fill="#000"/>
<rect x="1613" y="622" width="2" height="1" fill="#000"/>
<rect x="5" y="668" width="2" height="23" fill="#00ff00"/>
<rect x="20" y="668" width="3" height="17" fill="#00ff00"/>
<rect x="36" y="668" width="3" height="14" fill="#00ff00"/>
<rect x="52" y="668" width="3" height="8" fill="#00ff00"/>
<rect x="68" y="668" width="3" height="1" fill="#00ff00"/>
<rect x="84" y="664" width="3" height="4" fill="#00ff00"/>
<rect x="100" y="660" width="3" height="8" fill="#00ff00"/>
<rect x="116" y="657" width="3" height="11" fill="#00ff00"/>
<rect x="132" y="652" width="3" height="16" fill="#00ff00"/>
<rect x="148" y="647" width="3" height="21" fill="#00ff00"/>
<rect x="164" y="642" width="3" height="26" fill="#00ff00"/>
<rect x="180" y="638" width="3" height="30" fill="#00ff00"/>
<rect x="196" y="638" width="3" height="30" fill="#00ff00"/>
<rect x="212" y="638" width="3" height="30" fill="#00ff00"/>
<rect x="228" y="636" width="3" height="32" fill="#00ff00"/>
<rect x="244" y="638" width="3" height="30" fill="#00ff00"/>
<rect x="260" y="640" width="3" height="28" fill="#00ff00"/>
<rect x="276" y="641" width="3" height="27" fill="#00ff00"/>
<rect x="292" y="644" width="3" height="24" fill="#00ff00"/>
<rect x="308" y="647" width="3" height="21" fill="#00ff00"/>
<rect x="324" y="653" width="3" height="15" fill="#00ff00"/>
<rect x="340" y="660" width="3" height="8" fill="#00ff00"/>
<rect x="356" y="664" width="3" height="4" fill="#00ff00"/>
<rect x="372" y="665" width="3" height="3" fill="#00ff00"/>
<rect x="388" y="665" width="3" height="3" fill="#00ff00"/>
<rect x="404" y="667" width="3" height="1" fill="#00ff00"/>
<rect x="420" y="667" width="3" height="1" fill="#00ff00"/>
<rect x="436" y="668" width="3" height="3" fill="#00ff00"/>
<rect x="452" y="668" width="3" height="1" fill="#00ff00"/>
<rect x="468" y="666" width="3" height="2" fill="#00ff00"/>
<rect x="484" y="665" width="3" height="3" fill="#00ff00"/>
<rect x="500" y="665" width="3" height="3" fill="#00ff00"/>
<rect x="516" y="665" width="3" height="3" fill="#00ff00"/>
<rect x="532" y="663" width="3" height="5" fill="#00ff00"/>
<rect x="548" y="662" width="3" height="6" fill="#00ff00"/>
<rect x="564" y="661" width="3" height="7" fill="#00ff00"/>
<rect x="580" y="659" width="3" height="9" fill="#00ff00"/>
<rect x="596" y="660" width="3" height="8" fill="#00ff00"/>
<rect x="612" y="655" width="3" height="13" fill="#00ff00"/>
<rect x="628" y="650" width="3" height="18" fill="#00ff00"/>
<rect x="644" y="646" width="3" height="22" fill="#00ff00"/>
<rect x="660" y="642" width="3" height="26" fill="#00ff00"/>
<rect x="676" y="639" width="3" height="29" fill="#00ff00"/>
<rect x="692" y="638" width="3" height="30" fill="#00ff00"/>
<rect x="708" y="634" width="3" height="34" fill="#00ff00"/>
<rect x="724" y="636" width="3" height="32" fill="#00ff00"/>
<rect x="740" y="638" width="3" height="30" fill="#00ff00"/>
<rect x="756" y="640" width="3" height="28" fill="#00ff00"/>
<rect x="772" y="639" width="3" height="29" fill="#00ff00"/>
<rect x="788" y="641" width="3" height="27" fill="#00ff00"/>
<rect x="804" y="640" width="3" height="28" fill="#00ff00"/>
<rect x="820" y="638" width="3" height="30" fill="#00ff00"/>
<rect x="836" y="636" width="3" height="32" fill="#00ff00"/>
<rect x="852" y="636" width="3" height="32" fill="#00ff00"/>
<rect x="868" y="632" width="3" height="36" fill="#00ff00"/>
<rect x="884" y="633" width="3" height="35" fill="#00ff00"/>
<rect x="900" y="633" width="3" height="35" fill="#00ff00"/>
<rect x="916" y="633" width="3" height="35" fill="#00ff00"/>
<rect x="932" y="633" width="3" height="35" fill="#00ff00"/>
<rect x="948" y="635" width="3" height="33" fill="#00ff00"/>
<rect x="964" y="638" width="3" height="30" fill="#00ff00"/>
<rect x="980" y="640" width="3" height="28" fill="#00ff00"/>
<rect x="996" y="644" width="3" height="24" fill="#00ff00"/>
<rect x="1012" y="646" width="3" height="22" fill="#00ff00"/>
<rect x="1028" y="653" width="3" height="15" fill="#00ff00"/>
<rect x="1044" y="656" width="3" height="12" fill="#00ff00"/>
<rect x="1060" y="658" width="3" height="10" fill="#00ff00"/>
<rect x="1076" y="660" width="3" height="8" fill="#00ff00"/>
<rect x="1092" y="664" width="3" height="4" fill="#00ff00"/>
<rect x="1108" y="667" width="3" height="1" fill="#00ff00"/>
<rect x="1124" y="668" width="3" height="3" fill="#00ff00"/>
<rect x="1140" y="668" width="3" height="3" fill="#00ff00"/>
<rect x="1156" y="668" width="3" height="3" fill="#00ff00"/>
<rect x="1172" y="668" width="3" height="3" fill="#00ff00"/>
<rect x="1188" y="668" width="3" height="3" fill="#00ff00"/>
<rect x="1204" y="668" width="3" height="3" fill="#00ff00"/>
<rect x="1220" y="668" width="3" height="2" fill="#00ff00"/>
<rect x="1236" y="663" width="3" height="5" fill="#00ff00"/>
<rect x="1252" y="659" width="3" height="9" fill="#00ff00"/>
<polyline points="5,709.4 21,705.5 37,701.4 53,697.3 69,692.3 85,685.9 101,681.3 117,676.3 133,670.3 149,665.3 165,661.2 181,655.8 197,652.2 213,649.6 229,645.2 245,642.8 261,640.8 277,640.2 293,640.2 309,640.2 325,642.2 341,644.0 357,647.0 373,650.0 389,653.0 405,656.0 421,658.7 437,661.7 453,664.1 469,665.7 485,666.5 501,666.7 517,666.3 533,665.7 549,665.7 565,665.5 581,664.5 597,663.1 613,662.1 629,660.5 645,658.5 661,655.5 677,653.7 693,650.5 709,647.5 725,644.4 741,642.4 757,640.4 773,639.4 789,638.0 805,638.0 821,638.0 837,638.0 853,638.0 869,638.0 885,637.0 901,636.4 917,636.0 933,635.0 949,635.0 965,635.0 981,635.0 997,636.0 1013,637.0 1029,640.0 1045,642.0 1061,645.0 1077,648.0 1093,651.0 1109,654.0 1125,657.0 1141,660.5 1157,663.0 1173,665.5 1189,666.5 1205,668.0 1221,668.7 1237,668.7 1253,668.7" fill="none" stroke="#ff0000" stroke-width="2"/>
<rect x="1613" y="629" width="1" height="1" fill="#000"/>
<rect x="1613" y="668" width="1" height="1" fill="#000"/>
<rect x="1613" y="713" width="1" height="1" fill="#000"/>
<rect x="1613" y="718" width="1" height="1" fill="#000"/>
<rect x="1613" y="799" width="1" height="1" fill="#000"/>
<line x1="5" y1="734.5" x2="1612" y2="734.5" stroke="#000" stroke-width="1" stroke-dasharray="3 3" stroke-dashoffset="5"/>
<line x1="5" y1="758.5" x2="1612" y2="758.5" stroke="#000" stroke-width="1" stroke-dasharray="3 3" stroke-dashoffset="5"/>
<line x1="5" y1="787.5" x2="1612" y2="787.5" stroke="#000" stroke-width="1" stroke-dasharray="3 3" stroke-dashoffset="5"/>
<polyline points="5,755.8 21,754.6 37,757.8 53,753.2 69,750.8 85,751.8 101,751.8 117,751.8 133,747.2 149,745.2 165,743.6 181,743.6 197,749.6 213,749.6 229,746.8 245,752.6 261,753.8 277,753.8 293,755.2 309,757.2 325,761.9 341,766.7 357,763.3 373,759.3 389,758.7 405,760.7 421,760.9 437,761.7 453,756.3 469,754.9 485,754.9 501,758.7 517,756.3 533,755.3 549,752.9 565,752.7 581,752.7 597,755.9 613,745.9 629,744.9 645,743.3 661,742.9 677,742.9 693,742.9 709,739.9 725,753.9 741,752.3 757,750.9 773,751.9 789,751.7 805,747.3 821,745.9 837,745.9 853,747.7 869,742.9 885,748.9 901,748.9 917,747.9 933,747.7 949,752.7 965,752.7 981,752.7 997,755.7 1013,755.9 1029,764.7 1045,758.9 1061,758.9 1077,758.9 1093,762.7 1109,762.9 1125,764.7 1141,760.3 1157,758.9 1173,758.9 1189,758.9 1205,758.9 1221,756.9 1237,748.9 1253,748.9" fill="none" stroke="#1e90ff" stroke-width="2"/>
<rect x="5" y="801" width="1" height="3" fill="#000"/>
<rect x="69" y="801" width="1" height="3" fill="#000"/>
<rect x="133" y="801" width="1" height="3" fill="#000"/>
<rect x="197" y="801" width="1" height="3" fill="#000"/>
<rect x="261" y="801" width="1" height="3" fill="#000"/>
<rect x="325" y="801" width="1" height="3" fill="#000"/>
<rect x="389" y="801" width="1" height="3" fill="#000"/>
<rect x="453" y="801" width="1" height="3" fill="#000"/>
<rect x="517" y="801" width="1" height="3" fill="#000"/>
<rect x="581" y="801" width="1" height="3" fill="#000"/>
<rect x="645" y="801" width="1" height="3" fill="#000"/>
<rect x="709" y="801" width="1" height="3" fill="#000"/>
<rect x="773" y="801" width="1" height="3" fill="#000"/>
<rect x="837" y="801" width="1" height="3" fill="#000"/>
<rect x="901" y="801" width="1" height="3" fill="#000"/>
<rect x="965" y="801" width="1" height="3" fill="#000"/>
<rect x="1029" y="801" width="1" height="3" fill="#000"/>
<rect x="1093" y="801" width="1" height="3" fill="#000"/>
<rect x="1157" y="801" width="1" height="3" fill="#000"/>
<rect x="1221" y="801" width="1" height="3" fill="#000"/>
<rect x="1285" y="26" width="9" height="1" fill="#000"/>
<rect x="1286" y="27" width="7" height="1" fill="#000"/>
<rect x="1287" y="28" width="5" height="1" fill="#000"/>
<rect x="1288" y="29" width="3" height="1" fill="#000"/>
<rect x="1289" y="30" width="1" height="1" fill="#000"/>
<rect x="1614" y="110" width="36" height="11" fill="#000"/>
<rect x="1614" y="40" width="36" height="11" fill="#ff0000"/>
<rect x="1614" y="75" width="36" height="11" fill="#ff0000"/>
<rect x="1614" y="131" width="36" height="11" fill="#ff8000"/>
<rect x="1614" y="168" width="36" height="11" fill="#0000ff"/>
<rect x="1614" y="205" width="36" height="11" fill="#0000ff"/>
</g>
<g><line x1="1249.5" y1="286" x2="1307" y2="181" stroke="#ed1c24" stroke-width="3"/><polygon points="1316.2,166 1300.2,176.1 1315.6,185.7" fill="#ed1c24"/></g>
<g>
<g class="ce">
<rect x="8" y="32" width="7" height="1" fill="#000"/>
<rect x="9" y="33" width="5" height="1" fill="#000"/>
<rect x="10" y="34" width="3" height="1" fill="#000"/>
<rect x="11" y="35" width="1" height="1" fill="#000"/>
</g>
<text transform="translate(20.4,37) scale(0.9,1)" x="0 7.778 14.44 22.22 24.44 26.67 30 33.33 41.11" y="0" font-size="10" text-rendering="geometricPrecision" fill="#000" stroke="#000" stroke-width="0.2">USOil-,H4</text>
<text transform="translate(68.6,37) scale(0.9,1)" x="0 5.556 11.11 14.44 20 25.56 31.11 34.44 40 45.56 48.89 54.44 60 65.56 68.89 74.44 80 83.33 88.89 94.44 100 103.3 108.9 114.4 117.8 123.3 128.9" y="0" font-size="10" text-rendering="geometricPrecision" fill="#000" stroke="#000" stroke-width="0.2">80.440 80.550 80.238 80.283</text>
<text transform="translate(9.4,640) scale(0.9,1)" x="0 8.889 16.67 24.44 32.22 35.56 41.11 46.67 50 55.56 61.11 64.44 70 73.33 76.67 82.22 85.56 91.11 96.67 102.2 107.8 111.1 116.7 120 125.6 131.1 136.7" y="0" font-size="10" text-rendering="geometricPrecision" fill="#000" stroke="#000" stroke-width="0.2">MACD(12,26,9) 0.2493 0.0113</text>
<text transform="translate(9.1,729) scale(0.9,1)" x="0 7.778 14.44 17.78 21.11 26.67 32.22 35.56 38.89 44.44 50 53.33 58.89 64.44 70" y="0" font-size="10" text-rendering="geometricPrecision" fill="#000" stroke="#000" stroke-width="0.2">RSI(14) 61.4180</text>
<text transform="translate(1618,32) scale(0.9,1)" x="0 5.556 11.11 14.44 20 25.56" y="0" font-size="10" text-rendering="geometricPrecision" fill="#000" stroke="#000" stroke-width="0.2">81.530</text>
<text transform="translate(1618,65) scale(0.9,1)" x="0 5.556 11.11 14.44 20 25.56" y="0" font-size="10" text-rendering="geometricPrecision" fill="#000" stroke="#000" stroke-width="0.2">81.050</text>
<text transform="translate(1618,98) scale(0.9,1)" x="0 5.556 11.11 14.44 20 25.56" y="0" font-size="10" text-rendering="geometricPrecision" fill="#000" stroke="#000" stroke-width="0.2">80.580</text>
<text transform="translate(1618,131) scale(0.9,1)" x="0 5.556 11.11 14.44 20 25.56" y="0" font-size="10" text-rendering="geometricPrecision" fill="#000" stroke="#000" stroke-width="0.2">80.110</text>
<text transform="translate(1618,164) scale(0.9,1)" x="0 5.556 11.11 14.44 20 25.56" y="0" font-size="10" text-rendering="geometricPrecision" fill="#000" stroke="#000" stroke-width="0.2">79.640</text>
<text transform="translate(1618,197) scale(0.9,1)" x="0 5.556 11.11 14.44 20 25.56" y="0" font-size="10" text-rendering="geometricPrecision" fill="#000" stroke="#000" stroke-width="0.2">79.160</text>
<text transform="translate(1618,230) scale(0.9,1)" x="0 5.556 11.11 14.44 20 25.56" y="0" font-size="10" text-rendering="geometricPrecision" fill="#000" stroke="#000" stroke-width="0.2">78.690</text>
<text transform="translate(1618,263) scale(0.9,1)" x="0 5.556 11.11 14.44 20 25.56" y="0" font-size="10" text-rendering="geometricPrecision" fill="#000" stroke="#000" stroke-width="0.2">78.220</text>
<text transform="translate(1618,296) scale(0.9,1)" x="0 5.556 11.11 14.44 20 25.56" y="0" font-size="10" text-rendering="geometricPrecision" fill="#000" stroke="#000" stroke-width="0.2">77.750</text>
<text transform="translate(1618,329) scale(0.9,1)" x="0 5.556 11.11 14.44 20 25.56" y="0" font-size="10" text-rendering="geometricPrecision" fill="#000" stroke="#000" stroke-width="0.2">77.270</text>
<text transform="translate(1618,362) scale(0.9,1)" x="0 5.556 11.11 14.44 20 25.56" y="0" font-size="10" text-rendering="geometricPrecision" fill="#000" stroke="#000" stroke-width="0.2">76.800</text>
<text transform="translate(1618,395) scale(0.9,1)" x="0 5.556 11.11 14.44 20 25.56" y="0" font-size="10" text-rendering="geometricPrecision" fill="#000" stroke="#000" stroke-width="0.2">76.330</text>
<text transform="translate(1618,428) scale(0.9,1)" x="0 5.556 11.11 14.44 20 25.56" y="0" font-size="10" text-rendering="geometricPrecision" fill="#000" stroke="#000" stroke-width="0.2">75.860</text>
<text transform="translate(1618,461) scale(0.9,1)" x="0 5.556 11.11 14.44 20 25.56" y="0" font-size="10" text-rendering="geometricPrecision" fill="#000" stroke="#000" stroke-width="0.2">75.390</text>
<text transform="translate(1618,494) scale(0.9,1)" x="0 5.556 11.11 14.44 20 25.56" y="0" font-size="10" text-rendering="geometricPrecision" fill="#000" stroke="#000" stroke-width="0.2">74.910</text>
<text transform="translate(1618,527) scale(0.9,1)" x="0 5.556 11.11 14.44 20 25.56" y="0" font-size="10" text-rendering="geometricPrecision" fill="#000" stroke="#000" stroke-width="0.2">74.440</text>
<text transform="translate(1618,560) scale(0.9,1)" x="0 5.556 11.11 14.44 20 25.56" y="0" font-size="10" text-rendering="geometricPrecision" fill="#000" stroke="#000" stroke-width="0.2">73.970</text>
<text transform="translate(1618,593) scale(0.9,1)" x="0 5.556 11.11 14.44 20 25.56" y="0" font-size="10" text-rendering="geometricPrecision" fill="#000" stroke="#000" stroke-width="0.2">73.500</text>
<text transform="translate(1618,626) scale(0.9,1)" x="0 5.556 11.11 14.44 20 25.56" y="0" font-size="10" text-rendering="geometricPrecision" fill="#000" stroke="#000" stroke-width="0.2">73.020</text>
<text transform="translate(1618,119) scale(0.9,1)" x="0 5.556 11.11 14.44 20 25.56" y="0" font-size="10" text-rendering="geometricPrecision" fill="#fff" stroke="#fff" stroke-width="0.2">80.283</text>
<text transform="translate(1618,49) scale(0.9,1)" x="0 5.556 11.11 14.44 20 25.56" y="0" font-size="10" text-rendering="geometricPrecision" fill="#fff" stroke="#fff" stroke-width="0.2">81.264</text>
<text transform="translate(1618,84) scale(0.9,1)" x="0 5.556 11.11 14.44 20 25.56" y="0" font-size="10" text-rendering="geometricPrecision" fill="#fff" stroke="#fff" stroke-width="0.2">80.764</text>
<text transform="translate(1618,140) scale(0.9,1)" x="0 5.556 11.11 14.44 20 25.56" y="0" font-size="10" text-rendering="geometricPrecision" fill="#fff" stroke="#fff" stroke-width="0.2">79.964</text>
<text transform="translate(1618,177) scale(0.9,1)" x="0 5.556 11.11 14.44 20 25.56" y="0" font-size="10" text-rendering="geometricPrecision" fill="#fff" stroke="#fff" stroke-width="0.2">79.435</text>
<text transform="translate(1618,214) scale(0.9,1)" x="0 5.556 11.11 14.44 20 25.56" y="0" font-size="10" text-rendering="geometricPrecision" fill="#fff" stroke="#fff" stroke-width="0.2">78.906</text>
<text transform="translate(1616.5,638) scale(0.9,1)" x="0 5.556 8.889 14.44 20" y="0" font-size="10" text-rendering="geometricPrecision" fill="#000" stroke="#000" stroke-width="0.2">1.126</text>
<text transform="translate(1616.5,672) scale(0.9,1)" x="0 5.556 8.889 14.44" y="0" font-size="10" text-rendering="geometricPrecision" fill="#000" stroke="#000" stroke-width="0.2">0.00</text>
<text transform="translate(1616,711) scale(0.9,1)" x="0 3.333 8.889 12.22 17.78 23.33 28.89" y="0" font-size="10" text-rendering="geometricPrecision" fill="#000" stroke="#000" stroke-width="0.2">-1.2819</text>
<text transform="translate(1616.5,727) scale(0.9,1)" x="0 5.556 11.11" y="0" font-size="10" text-rendering="geometricPrecision" fill="#000" stroke="#000" stroke-width="0.2">100</text>
<text transform="translate(1615,738) scale(0.9,1)" x="0 5.556" y="0" font-size="10" text-rendering="geometricPrecision" fill="#000" stroke="#000" stroke-width="0.2">80</text>
<text transform="translate(1615,762) scale(0.9,1)" x="0 5.556" y="0" font-size="10" text-rendering="geometricPrecision" fill="#000" stroke="#000" stroke-width="0.2">50</text>
<text transform="translate(1615,791) scale(0.9,1)" x="0 5.556" y="0" font-size="10" text-rendering="geometricPrecision" fill="#000" stroke="#000" stroke-width="0.2">15</text>
<text transform="translate(1616.5,797) scale(0.9,1)" x="0" y="0" font-size="10" text-rendering="geometricPrecision" fill="#000" stroke="#000" stroke-width="0.2">0</text>
<text transform="translate(4.2,813) scale(0.9,1)" x="0 5.556 11.11 14.44 22.22 27.78 32.22 35.56 41.11 46.67 52.22" y="0" font-size="10" text-rendering="geometricPrecision" fill="#000" stroke="#000" stroke-width="0.2">13 Dec 2022</text>
<text transform="translate(68.2,813) scale(0.9,1)" x="0 5.556 11.11 14.44 22.22 27.78 32.22 35.56 41.11 46.67 50 55.56" y="0" font-size="10" text-rendering="geometricPrecision" fill="#000" stroke="#000" stroke-width="0.2">13 Dec 16:00</text>
<text transform="translate(132.2,813) scale(0.9,1)" x="0 5.556 11.11 14.44 22.22 27.78 32.22 35.56 41.11 46.67 50 55.56" y="0" font-size="10" text-rendering="geometricPrecision" fill="#000" stroke="#000" stroke-width="0.2">14 Dec 08:00</text>
<text transform="translate(196.2,813) scale(0.9,1)" x="0 5.556 11.11 14.44 22.22 27.78 32.22 35.56 41.11 46.67 50 55.56" y="0" font-size="10" text-rendering="geometricPrecision" fill="#000" stroke="#000" stroke-width="0.2">15 Dec 00:00</text>
<text transform="translate(260.2,813) scale(0.9,1)" x="0 5.556 11.11 14.44 22.22 27.78 32.22 35.56 41.11 46.67 50 55.56" y="0" font-size="10" text-rendering="geometricPrecision" fill="#000" stroke="#000" stroke-width="0.2">15 Dec 16:00</text>
<text transform="translate(324.2,813) scale(0.9,1)" x="0 5.556 11.11 14.44 22.22 27.78 32.22 35.56 41.11 46.67 50 55.56" y="0" font-size="10" text-rendering="geometricPrecision" fill="#000" stroke="#000" stroke-width="0.2">16 Dec 08:00</text>
<text transform="translate(388.2,813) scale(0.9,1)" x="0 5.556 11.11 14.44 22.22 27.78 32.22 35.56 41.11 46.67 50 55.56" y="0" font-size="10" text-rendering="geometricPrecision" fill="#000" stroke="#000" stroke-width="0.2">19 Dec 00:00</text>
<text transform="translate(452.2,813) scale(0.9,1)" x="0 5.556 11.11 14.44 22.22 27.78 32.22 35.56 41.11 46.67 50 55.56" y="0" font-size="10" text-rendering="geometricPrecision" fill="#000" stroke="#000" stroke-width="0.2">19 Dec 16:00</text>
<text transform="translate(516.2,813) scale(0.9,1)" x="0 5.556 11.11 14.44 22.22 27.78 32.22 35.56 41.11 46.67 50 55.56" y="0" font-size="10" text-rendering="geometricPrecision" fill="#000" stroke="#000" stroke-width="0.2">20 Dec 08:00</text>
<text transform="translate(580.2,813) scale(0.9,1)" x="0 5.556 11.11 14.44 22.22 27.78 32.22 35.56 41.11 46.67 50 55.56" y="0" font-size="10" text-rendering="geometricPrecision" fill="#000" stroke="#000" stroke-width="0.2">21 Dec 00:00</text>
<text transform="translate(644.2,813) scale(0.9,1)" x="0 5.556 11.11 14.44 22.22 27.78 32.22 35.56 41.11 46.67 50 55.56" y="0" font-size="10" text-rendering="geometricPrecision" fill="#000" stroke="#000" stroke-width="0.2">21 Dec 16:00</text>
<text transform="translate(708.2,813) scale(0.9,1)" x="0 5.556 11.11 14.44 22.22 27.78 32.22 35.56 41.11 46.67 50 55.56" y="0" font-size="10" text-rendering="geometricPrecision" fill="#000" stroke="#000" stroke-width="0.2">22 Dec 08:00</text>
<text transform="translate(772.2,813) scale(0.9,1)" x="0 5.556 11.11 14.44 22.22 27.78 32.22 35.56 41.11 46.67 50 55.56" y="0" font-size="10" text-rendering="geometricPrecision" fill="#000" stroke="#000" stroke-width="0.2">23 Dec 00:00</text>
<text transform="translate(836.2,813) scale(0.9,1)" x="0 5.556 11.11 14.44 22.22 27.78 32.22 35.56 41.11 46.67 50 55.56" y="0" font-size="10" text-rendering="geometricPrecision" fill="#000" stroke="#000" stroke-width="0.2">23 Dec 16:00</text>
<text transform="translate(900.2,813) scale(0.9,1)" x="0 5.556 11.11 14.44 22.22 27.78 32.22 35.56 41.11 46.67 50 55.56" y="0" font-size="10" text-rendering="geometricPrecision" fill="#000" stroke="#000" stroke-width="0.2">27 Dec 04:00</text>
<text transform="translate(964.2,813) scale(0.9,1)" x="0 5.556 11.11 14.44 22.22 27.78 32.22 35.56 41.11 46.67 50 55.56" y="0" font-size="10" text-rendering="geometricPrecision" fill="#000" stroke="#000" stroke-width="0.2">27 Dec 20:00</text>
<text transform="translate(1028.2,813) scale(0.9,1)" x="0 5.556 11.11 14.44 22.22 27.78 32.22 35.56 41.11 46.67 50 55.56" y="0" font-size="10" text-rendering="geometricPrecision" fill="#000" stroke="#000" stroke-width="0.2">28 Dec 12:00</text>
<text transform="translate(1092.2,813) scale(0.9,1)" x="0 5.556 11.11 14.44 22.22 27.78 32.22 35.56 41.11 46.67 50 55.56" y="0" font-size="10" text-rendering="geometricPrecision" fill="#000" stroke="#000" stroke-width="0.2">29 Dec 04:00</text>
<text transform="translate(1156.2,813) scale(0.9,1)" x="0 5.556 11.11 14.44 22.22 27.78 32.22 35.56 41.11 46.67 50 55.56" y="0" font-size="10" text-rendering="geometricPrecision" fill="#000" stroke="#000" stroke-width="0.2">29 Dec 20:00</text>
<text transform="translate(1220.2,813) scale(0.9,1)" x="0 5.556 11.11 14.44 22.22 27.78 32.22 35.56 41.11 46.67 50 55.56" y="0" font-size="10" text-rendering="geometricPrecision" fill="#000" stroke="#000" stroke-width="0.2">30 Dec 12:00</text>
<text transform="translate(893.6,13) scale(0.9,1)" x="0 8.889" y="0" font-size="10" text-rendering="geometricPrecision" fill="#303030" stroke="#303030" stroke-width="0.08">M1</text>
<text transform="translate(921.6,13) scale(0.9,1)" x="0 8.889" y="0" font-size="10" text-rendering="geometricPrecision" fill="#303030" stroke="#303030" stroke-width="0.08">M5</text>
<text transform="translate(947.6,13) scale(0.9,1)" x="0 8.889 14.44" y="0" font-size="10" text-rendering="geometricPrecision" fill="#303030" stroke="#303030" stroke-width="0.08">M15</text>
<text transform="translate(975.5,13) scale(0.9,1)" x="0 8.889 14.44" y="0" font-size="10" text-rendering="geometricPrecision" fill="#303030" stroke="#303030" stroke-width="0.08">M30</text>
<text transform="translate(1006.3,13) scale(0.9,1)" x="0 7.778" y="0" font-size="10" text-rendering="geometricPrecision" fill="#303030" stroke="#303030" stroke-width="0.08">H1</text>
<text transform="translate(1033.3,13) scale(0.9,1)" x="0 7.778" y="0" font-size="10" text-rendering="geometricPrecision" fill="#303030" stroke="#303030" stroke-width="0.08">H4</text>
<text transform="translate(1062.2,13) scale(0.9,1)" x="0 7.778" y="0" font-size="10" text-rendering="geometricPrecision" fill="#303030" stroke="#303030" stroke-width="0.08">D1</text>
<text transform="translate(1090.3,13) scale(0.9,1)" x="0 10" y="0" font-size="10" text-rendering="geometricPrecision" fill="#303030" stroke="#303030" stroke-width="0.08">W1</text>
<text transform="translate(1116.4,13) scale(0.9,1)" x="0 8.889" y="0" font-size="10" text-rendering="geometricPrecision" fill="#303030" stroke="#303030" stroke-width="0.08">MN</text>
</g>
</svg></body></html>
